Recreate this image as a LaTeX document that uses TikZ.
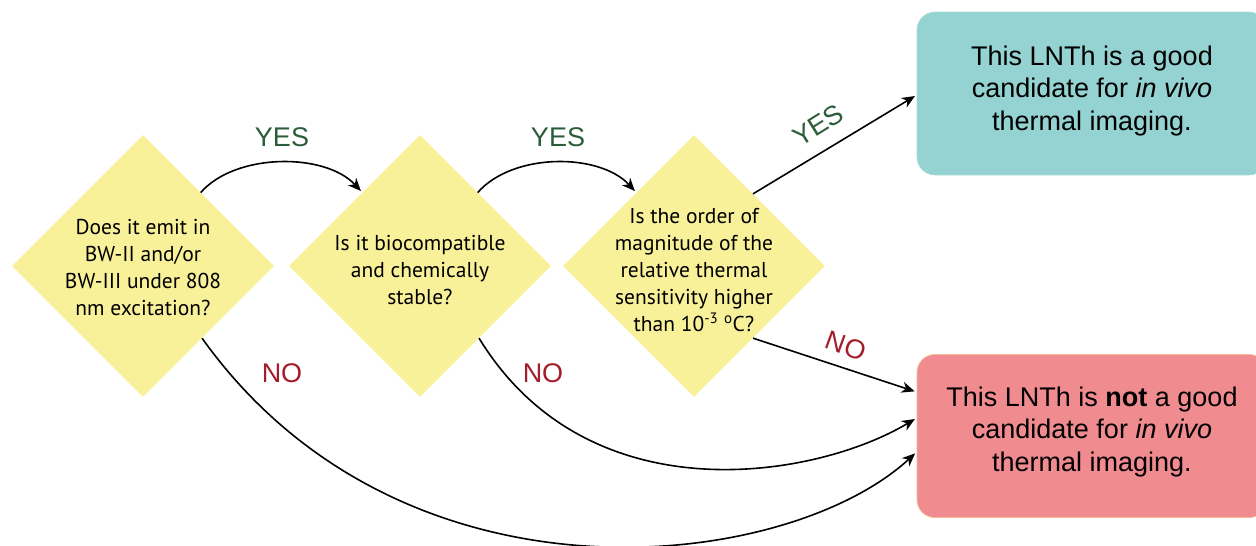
\documentclass[tikz,border=0pt]{standalone}
\usepackage{fontspec}
\setmainfont{Liberation Sans}
\newfontfamily\myr{PT Sans}
\usetikzlibrary{shapes.geometric,arrows.meta,calc}
\definecolor{dyel}{HTML}{F8F19A}
\definecolor{teal}{HTML}{94D3D1}
\definecolor{pinkred}{HTML}{F08B90}
\definecolor{pinkline}{HTML}{F7B79A}
\definecolor{yesgreen}{HTML}{2B5D3A}
\definecolor{nored}{HTML}{A51C2A}
\begin{document}
\begin{tikzpicture}[x=1pt,y=-1pt,
  dia/.style={diamond, fill=dyel, minimum width=262pt, minimum height=262pt, inner sep=0pt},
  qtext/.style={font=\myr\fontsize{21.5}{27}\selectfont, align=center, inner sep=0pt},
  endbox/.style={rectangle, rounded corners=18pt, minimum width=350pt, minimum height=163pt, inner sep=0pt},
  endtext/.style={font=\fontsize{27}{32.5}\selectfont, align=center, inner sep=0pt},
  arr/.style={-{Stealth[length=13pt,width=11pt,inset=4pt]}, line width=1.6pt, shorten >=2pt},
  yeslab/.style={font=\fontsize{27}{27}\selectfont, text=yesgreen, inner sep=0pt},
  nolab/.style={font=\fontsize{27}{27}\selectfont, text=nored, inner sep=0pt}]
\useasboundingbox (0,0) rectangle (1256,546);

\node[dia] (d1) at (143,266) {};
\node[dia] (d2) at (420,266) {};
\node[dia] (d3) at (694,266) {};
\node[qtext] (t1) at (143,268) {Does it emit in\\BW-II and/or\\BW-III under 808\\nm excitation?};
\node[qtext] (t2) at (420,270) {Is it biocompatible\\and chemically\\stable?};
\node[qtext] (t3) at (694,270) {Is the order of\\magnitude of the\\relative thermal\\sensitivity higher\\than 10\textsuperscript{-3} \textsuperscript{o}C?};

\node[endbox, fill=teal, draw=teal!80!white, line width=0.6pt] (good) at (1092,93.5) {};
\node[endtext] (goodt) at (1092,91) {This LNTh is a good\\candidate for \textit{in vivo}\\thermal imaging.};
\node[endbox, fill=pinkred, draw=pinkline, line width=0.8pt] (bad) at (1092,436) {};
\node[endtext] (badt) at (1092,432) {This LNTh is \textbf{not} a good\\candidate for \textit{in vivo}\\thermal imaging.};

\coordinate (s1) at ($(d1.north)!0.44!(d1.east)$);
\coordinate (e2) at ($(d2.north)!0.44!(d2.west)$);
\coordinate (s2) at ($(d2.north)!0.44!(d2.east)$);
\coordinate (e3) at ($(d3.north)!0.44!(d3.west)$);
\coordinate (s3y) at ($(d3.north)!0.45!(d3.east)$);
\coordinate (s3n) at ($(d3.south)!0.45!(d3.east)$);
\coordinate (s2n) at ($(d2.south)!0.45!(d2.east)$);
\coordinate (s1n) at ($(d1.south)!0.45!(d1.east)$);

\draw[arr] (s1) .. controls +(35,-40) and +(-37,-40) .. (e2);
\draw[arr] (s2) .. controls +(35,-40) and +(-37,-40) .. (e3);
\draw[arr] (s3y) -- ([yshift=-1.5pt]good.west);
\draw[arr] (s3n) -- ([yshift=44pt]bad.west);
\draw[arr] (s2n) .. controls +(110,180) and +(-100,60) .. ([yshift=18pt]bad.west);
\draw[arr] (s1n) .. controls +(200,280) and +(-130,120) .. ([yshift=-16pt]bad.west);

\node[yeslab] (y1) at (282,137) {YES};
\node[yeslab] (y2) at (558,137) {YES};
\node[yeslab, rotate=32] (y3) at (818,125) {YES};
\node[nolab] (n1) at (282,373) {NO};
\node[nolab] (n2) at (543,373) {NO};
\node[nolab, rotate=-20] (n3) at (846,346) {NO};
\end{tikzpicture}
\end{document}
